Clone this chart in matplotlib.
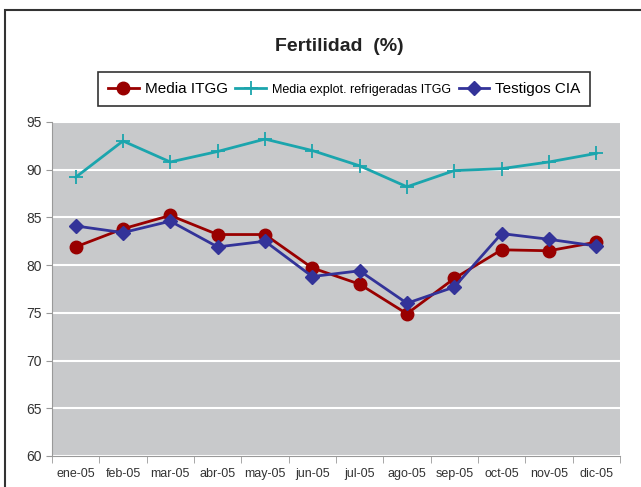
import matplotlib
matplotlib.use("Agg")
import matplotlib.pyplot as plt
import matplotlib.patches as patches
import numpy as np

plt.rcParams['font.family'] = ['Liberation Sans', 'DejaVu Sans']

# Datos
meses = ['ene-05', 'feb-05', 'mar-05', 'abr-05', 'may-05', 'jun-05',
         'jul-05', 'ago-05', 'sep-05', 'oct-05', 'nov-05', 'dic-05']
media_itgg = [81.9, 83.8, 85.2, 83.2, 83.2, 79.7, 78.0, 74.9, 78.6, 81.6, 81.5, 82.4]
media_refrig = [89.2, 93.0, 90.8, 91.9, 93.2, 92.0, 90.4, 88.2, 89.9, 90.1, 90.8, 91.7]
testigos_cia = [84.1, 83.4, 84.6, 81.9, 82.5, 78.8, 79.4, 76.0, 77.7, 83.3, 82.7, 82.0]
yticks = [60, 65, 70, 75, 80, 85, 90, 95]

fig = plt.figure(figsize=(6.41, 4.87), dpi=100)
ax = fig.add_axes([0.0811, 0.0637, 0.886, 0.686])
ax.set_facecolor('#c8c9cb')

x = np.arange(len(meses))
l1, = ax.plot(x, media_itgg, color='#990000', lw=2, marker='o', ms=9,
              label='Media ITGG', zorder=4)
l2, = ax.plot(x, media_refrig, color='#1ba5ad', lw=2, marker='+', ms=10, mew=1.3,
              label='Media explot. refrigeradas ITGG', zorder=3)
l3, = ax.plot(x, testigos_cia, color='#333399', lw=2, marker='D', ms=7,
              label='Testigos CIA', zorder=5)

ax.set_xlim(-0.5, len(meses) - 0.5)
ax.set_ylim(60, 95)
ax.set_yticks(yticks)
ax.yaxis.grid(True, color='white', lw=1.5)
ax.set_axisbelow(True)

ax.set_xticks(x)
ax.set_xticklabels(meses)
ax.set_xticks(np.arange(-0.5, len(meses)), minor=True)
ax.tick_params(axis='x', which='major', length=0, pad=9, labelsize=9, labelcolor='#333333')
ax.tick_params(axis='x', which='minor', length=5, color='#999999')
ax.tick_params(axis='y', length=4, color='#999999', labelsize=10, labelcolor='#333333')

for s in ['top', 'right']:
    ax.spines[s].set_visible(False)
for s in ['left', 'bottom']:
    ax.spines[s].set_color('#999999')

fig.text(0.53, 0.905, 'Fertilidad  (%)', ha='center', va='center',
         fontsize=14, fontweight='bold', color='#222222')

leg = fig.legend(handles=[l1, l2, l3], loc='center', bbox_to_anchor=(0.537, 0.817),
                 ncol=3, frameon=True, fancybox=False, fontsize=11,
                 handlelength=2.0, columnspacing=0.5, handletextpad=0.4,
                 borderpad=0.65, edgecolor='black')
leg.get_frame().set_linewidth(1.2)
leg.get_texts()[1].set_fontsize(9)

# Marco exterior
fig.patches.append(patches.Rectangle((5 / 641, -0.05), 1.1, (487 - 10) / 487 + 0.05,
                                     transform=fig.transFigure, fill=False,
                                     edgecolor='#333333', lw=1.5))

fig.savefig('out.png', dpi=100)
